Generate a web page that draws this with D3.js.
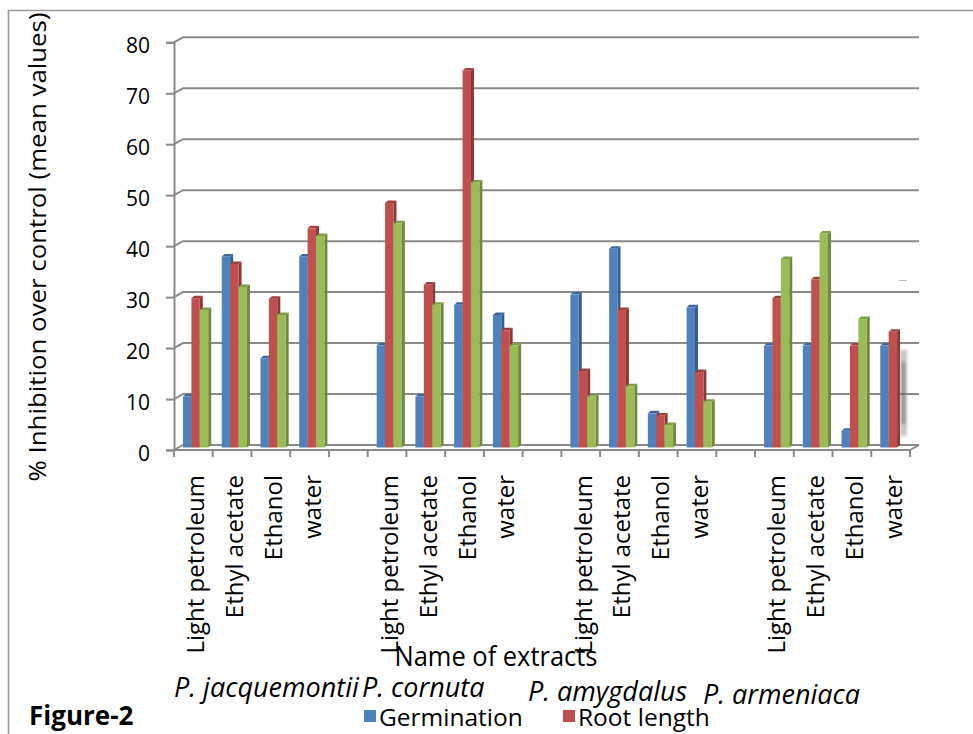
<!DOCTYPE html>
<html>
<head>
<meta charset="utf-8">
<script src="https://cdn.jsdelivr.net/npm/d3@7"></script>
<style>
  html, body { margin: 0; padding: 0; background: #fff; }
  svg { display: block; }
  text { font-family: "Open Sans", "Noto Sans", sans-serif; fill: #000; }
</style>
</head>
<body>
<svg id="chart" width="973" height="734"></svg>
<script>
// Plant species and the four solvent extracts tested on each
const species = ["P. jacquemontii", "P. cornuta", "P. amygdalus", "P. armeniaca"];
const extracts = ["Light petroleum", "Ethyl acetate", "Ethanol", "water"];

// % inhibition over control, one value per species × extract (species-major order)
const germination = [10, 37.5, 17.5, 37.5,  20, 10, 28, 26,  30, 39, 6.7, 27.5,  20, 20, 3.3, 20];
const rootLength  = [29.3, 36, 29.2, 43,  48, 32, 74, 23,  15, 27, 6.3, 14.8,  29.3, 33, 20, 22.7];
const shootLength = [27, 31.5, 26, 41.5,  44, 28, 52, 20,  10, 12, 4.4, 9,  37, 42, 25.2, null];

const yTicks = [0, 10, 20, 30, 40, 50, 60, 70, 80];

const seriesList = [
  { name: "Germination", values: germination, front: "#4F81BD", side: "#385D8A", top: "#3C679C" },
  { name: "Root length", values: rootLength,  front: "#C0504D", side: "#8C3836", top: "#9E3F3C" },
  { name: "Shoot length", values: shootLength, front: "#9BBB59", side: "#71893F", top: "#7F9C46" }
];

const svg = d3.select("#chart");
svg.append("rect").attr("width", 973).attr("height", 734).attr("fill", "#fff");

// outer frame
svg.append("path")
  .attr("d", "M8.5,734 V10.5 H973")
  .attr("fill", "none").attr("stroke", "#9a9a9a").attr("stroke-width", 1.6);

// category slots: four extracts per species with an empty slot between species
const slots = [];
species.forEach((sp, si) => {
  extracts.forEach((ex, ei) => slots.push({ key: sp + "|" + ex, label: ex, idx: si * 4 + ei }));
  if (si < species.length - 1) slots.push({ key: "gap" + si, label: "", idx: null });
});

// 3-D depth offset of the back wall relative to the front plane
const depthX = 9, depthY = -5;

const x = d3.scaleBand().domain(slots.map(d => d.key)).range([174, 910]).padding(0);
const yFront = d3.scaleLinear().domain([0, 80]).range([450, 42.3]);
const yBack = v => yFront(v) + depthY;
const yBar = v => yFront(v) - 2.5;

const grid = svg.append("g").attr("stroke", "#8a8a8a").attr("stroke-width", 2).attr("fill", "none");

// back-wall gridlines with a short diagonal on the side wall
yTicks.forEach(t => {
  grid.append("path")
    .attr("d", `M174,${yFront(t)} L${174 + depthX},${yBack(t)} H919`);
});

// floor front edge and right edge
grid.append("path").attr("d", `M174,${yFront(0)} H910 L919,${yBack(0)}`);

// vertical axis with ticks
const yAxis = d3.axisLeft(yFront).tickValues(yTicks).tickSize(8).tickPadding(16).tickFormat(d3.format("d"));
const yg = svg.append("g").attr("transform", "translate(174,0)").call(yAxis);
yg.select(".domain").attr("stroke", "#8a8a8a").attr("stroke-width", 2);
yg.selectAll(".tick line").attr("stroke", "#8a8a8a").attr("stroke-width", 2);
yg.selectAll(".tick text")
  .attr("font-family", "'Open Sans', sans-serif").attr("font-size", 21).attr("fill", "#000")
  .attr("dy", "0.48em");

// category ticks along the floor
const xTickPos = slots.map(d => x(d.key)).concat([910]);
svg.append("g").selectAll("line").data(xTickPos).join("line")
  .attr("x1", d => d).attr("x2", d => d)
  .attr("y1", 450).attr("y2", 457)
  .attr("stroke", "#8a8a8a").attr("stroke-width", 2);

// columns with side and top faces
const barW = 8.4, sideW = 3, topH = 2.5;
const barsG = svg.append("g");
slots.filter(d => d.idx !== null).forEach(slot => {
  seriesList.forEach((s, i) => {
    const v = s.values[slot.idx];
    if (v === null || v === undefined) return;
    const x0 = x(slot.key) + 9 + i * barW;
    const yT = yBar(v), yB = 447.5;
    const g = barsG.append("g");
    g.append("path")
      .attr("d", `M${x0 + barW},${yT} L${x0 + barW + sideW},${yT - topH} V${yB - topH} L${x0 + barW},${yB} Z`)
      .attr("fill", s.side);
    g.append("path")
      .attr("d", `M${x0},${yT} L${x0 + sideW},${yT - topH} H${x0 + barW + sideW} L${x0 + barW},${yT} Z`)
      .attr("fill", s.top);
    g.append("rect")
      .attr("x", x0).attr("y", yT).attr("width", barW).attr("height", yB - yT)
      .attr("fill", s.front);
  });
});

// smudged patch at the right end of the floor
const defs = svg.append("defs");
defs.append("filter").attr("id", "soft").attr("x", "-2").attr("y", "-1").attr("width", "5").attr("height", "3")
  .append("feGaussianBlur").attr("stdDeviation", 1.6);
const smudge = svg.append("g").attr("filter", "url(#soft)");
smudge.append("rect").attr("x", 900).attr("y", 350).attr("width", 7).attr("height", 86)
  .attr("fill", "#8c8c8c").attr("opacity", 0.5);
smudge.append("rect").attr("x", 902).attr("y", 362).attr("width", 3).attr("height", 62)
  .attr("fill", "#444").attr("opacity", 0.5);
svg.append("line").attr("x1", 899).attr("x2", 907).attr("y1", 280.5).attr("y2", 280.5)
  .attr("stroke", "#bbb").attr("stroke-width", 1);

// category labels, rotated
svg.append("g").selectAll("text").data(slots.filter(d => d.label)).join("text")
  .attr("transform", d => `translate(${x(d.key) + x.bandwidth() / 2 + 11},475) rotate(-90)`)
  .attr("text-anchor", "end")
  .attr("font-size", 24)
  .text(d => d.label);

// axis titles
svg.append("text")
  .attr("transform", "translate(46,247) rotate(-90)")
  .attr("text-anchor", "middle").attr("font-size", 24)
  .attr("textLength", 469).attr("lengthAdjust", "spacingAndGlyphs")
  .text("% Inhibition over control (mean values)");

svg.append("text")
  .attr("x", 496).attr("y", 666).attr("text-anchor", "middle").attr("font-size", 27)
  .attr("textLength", 203).attr("lengthAdjust", "spacingAndGlyphs")
  .text("Name of extracts");

// species names under each group
const speciesPos = [[174, 697], [362, 697], [528, 701], [703, 704]];
svg.append("g").selectAll("text").data(species).join("text")
  .attr("x", (d, i) => speciesPos[i][0]).attr("y", (d, i) => speciesPos[i][1])
  .attr("font-size", 27).attr("font-style", "italic")
  .text(d => d);

// figure label
svg.append("text").attr("x", 29).attr("y", 725)
  .attr("font-size", 26).attr("font-weight", "bold")
  .text("Figure-2");

// legend
const legendItems = [
  { s: seriesList[0], x: 364 },
  { s: seriesList[1], x: 563 }
];
const lg = svg.append("g");
legendItems.forEach(it => {
  lg.append("rect").attr("x", it.x).attr("y", 710).attr("width", 12).attr("height", 12).attr("fill", it.s.front);
  lg.append("text").attr("x", it.x + 15).attr("y", 726).attr("font-size", 24.5).text(it.s.name);
});
</script>
</body>
</html>
